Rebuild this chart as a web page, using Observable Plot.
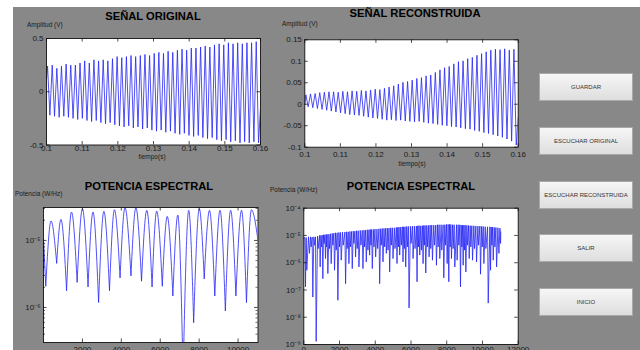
<!DOCTYPE html>
<html><head><meta charset="utf-8">
<script src="https://cdn.jsdelivr.net/npm/d3@7"></script>
<script src="https://cdn.jsdelivr.net/npm/@observablehq/plot@0.6"></script>
<style>
body{margin:0;background:#fff;}
#fig{position:relative;width:640px;height:350px;overflow:hidden;background:#fff;font-family:"Liberation Sans",Arial,sans-serif;}
#panel{position:absolute;left:13px;top:7px;right:0;bottom:0;background:#888888;}
.ttl{position:absolute;font-weight:bold;font-size:11.2px;color:#000;transform:translate(-50%,-50%);white-space:nowrap;line-height:1}
.lbl{position:absolute;font-size:6.5px;color:#1a1a1a;white-space:nowrap;line-height:1;transform:translateY(-50%)}
.btn{position:absolute;left:539px;width:94px;height:28px;box-sizing:border-box;border:1px solid #a9a9a9;background:linear-gradient(#f6f6f6,#dedede);font-size:6px;color:#333;display:flex;align-items:center;justify-content:center;white-space:nowrap}
.plot{position:absolute}
.plot svg{display:block;overflow:visible}
</style></head>
<body>
<div id="fig"><div id="panel"></div></div>
<script>
// ---------- DATA ----------
// Time-signal extrema (s): shared sample times of maxima and minima
const t_max = [0.1003,0.1016,0.1029,0.1042,0.1055,0.1068,0.1081,0.1094,0.1107,0.1120,0.1133,0.1146,0.1159,0.1172,0.1185,0.1198,0.1211,0.1224,0.1237,0.1250,0.1263,0.1276,0.1289,0.1302,0.1315,0.1328,0.1341,0.1354,0.1367,0.1380,0.1393,0.1406,0.1419,0.1432,0.1445,0.1458,0.1471,0.1484,0.1497,0.1510,0.1523,0.1536,0.1549,0.1562,0.1575,0.1588];
const t_min = [0.10095,0.10225,0.10355,0.10485,0.10615,0.10745,0.10875,0.11005,0.11135,0.11265,0.11395,0.11525,0.11655,0.11785,0.11915,0.12045,0.12175,0.12305,0.12435,0.12565,0.12695,0.12825,0.12955,0.13085,0.13215,0.13345,0.13475,0.13605,0.13735,0.13865,0.13995,0.14125,0.14255,0.14385,0.14515,0.14645,0.14775,0.14905,0.15035,0.15165,0.15295,0.15425,0.15555,0.15685,0.15815,0.15945];

// SEÑAL ORIGINAL (V)
const orig_start = 0.12, orig_end = -0.15;
const orig_max = [0.24,0.25,0.22,0.24,0.26,0.25,0.25,0.27,0.29,0.27,0.30,0.29,0.30,0.29,0.31,0.33,0.32,0.33,0.34,0.33,0.34,0.35,0.34,0.36,0.37,0.36,0.38,0.37,0.39,0.40,0.39,0.41,0.41,0.42,0.43,0.42,0.44,0.45,0.44,0.46,0.45,0.46,0.45,0.46,0.46,0.47];
const orig_min = [-0.22,-0.23,-0.24,-0.23,-0.24,-0.25,-0.26,-0.25,-0.27,-0.28,-0.27,-0.29,-0.30,-0.29,-0.31,-0.32,-0.33,-0.32,-0.34,-0.33,-0.35,-0.34,-0.36,-0.37,-0.36,-0.38,-0.37,-0.39,-0.40,-0.39,-0.41,-0.42,-0.41,-0.43,-0.44,-0.43,-0.45,-0.46,-0.45,-0.47,-0.46,-0.48,-0.47,-0.48,-0.47,-0.48];

// SEÑAL RECONSTRUIDA (V)
const rec_start = 0.0, rec_end = -0.03;
const rec_max = [0.022,0.024,0.025,0.027,0.028,0.029,0.029,0.028,0.030,0.029,0.031,0.030,0.032,0.031,0.033,0.035,0.034,0.037,0.040,0.043,0.047,0.051,0.053,0.056,0.060,0.062,0.066,0.068,0.074,0.080,0.085,0.088,0.094,0.099,0.101,0.106,0.109,0.114,0.118,0.122,0.126,0.128,0.127,0.129,0.126,0.128];
const rec_min = [-0.006,-0.008,-0.010,-0.012,-0.014,-0.016,-0.018,-0.020,-0.022,-0.024,-0.025,-0.026,-0.028,-0.030,-0.032,-0.033,-0.035,-0.037,-0.036,-0.038,-0.037,-0.039,-0.040,-0.041,-0.040,-0.042,-0.044,-0.045,-0.047,-0.049,-0.050,-0.052,-0.053,-0.055,-0.057,-0.058,-0.061,-0.063,-0.066,-0.068,-0.071,-0.074,-0.077,-0.081,-0.086,-0.095];

// POTENCIA ESPECTRAL (original): lobes between dips (Hz, W/Hz)
const po_start_f = 0, po_start_v = 1.05e-5, po_end_f = 11025, po_end_v = 1.0e-5;
const po_dip_f = [117,677,1186,1729,2289,2832,3392,3935,4495,5038,5580,6106,6649,7175,7718,8261,8804,9347,9890,10433];
const po_dip_v = [2.1e-6,4.6e-6,1.8e-6,2.4e-6,2.05e-6,1.2e-6,1.8e-6,2.8e-6,3.0e-6,2.5e-6,2.05e-6,2.1e-6,1.5e-6,1e-7,6.0e-7,2.7e-6,1.5e-6,9.0e-7,1.5e-6,1.2e-6];
const po_peak_f = [388,897,1440,2000,2543,3103,3646,4189,4749,5309,5818,6361,6904,7464,8007,8532,9075,9619,10179,10688];
const po_peak_v = [1.95e-5,2.06e-5,2.65e-5,2.97e-5,2.65e-5,2.71e-5,2.87e-5,3.08e-5,3.08e-5,2.81e-5,2.74e-5,2.28e-5,2.39e-5,2.81e-5,2.97e-5,2.81e-5,2.81e-5,2.81e-5,2.81e-5,2.87e-5];

// POTENCIA ESPECTRAL (reconstruida): spikes (Hz, W/Hz)
const pr_f = [0,56,94,131,168,262,318,374,411,468,505,561,598,655,692,767,804,879,916,954,991,1029,1066,1103,1141,1178,1216,1253,1272,1309,1346,1403,1440,1496,1533,1590,1627,1683,1720,1777,1814,1870,1907,1964,2001,2057,2094,2169,2207,2300,2338,2394,2431,2487,2525,2581,2618,2674,2712,2768,2805,2861,2899,2955,2992,3048,3086,3160,3198,3273,3310,3366,3403,3460,3497,3553,3590,3647,3684,3721,3759,3796,3834,3890,3927,3983,4021,4095,4133,4208,4245,4301,4338,4395,4432,4488,4525,4582,4619,4675,4712,4769,4806,4862,4899,4956,4993,5068,5105,5180,5217,5255,5292,5330,5367,5423,5460,5517,5554,5591,5629,5666,5704,5760,5797,5853,5891,5965,6003,6078,6115,6190,6227,6302,6339,6377,6414,6452,6489,6545,6582,6639,6676,6713,6751,6788,6826,6882,6919,6975,7013,7069,7106,7162,7200,7274,7312,7387,7424,7480,7517,7574,7611,7686,7723,7798,7835,7891,7929,7985,8022,8078,8116,8153,8191,8228,8265,8322,8359,8415,8452,8546,8583,8639,8677,8733,8770,8808,8845,8883,8920,8957,8995,9032,9070,9126,9163,9219,9257,9313,9350,9406,9444,9518,9556,9631,9668,9743,9780,9855,9892,9948,9986,10042,10079,10154,10192,10285,10322,10416,10453,10491,10528,10566,10603,10659,10696,10753,10790,10865,10921,10977,11014,11025];
const pr_v = [7.8e-6,8.4e-6,1.3e-7,8.4e-6,5.3e-7,8.9e-6,2.2e-6,8.9e-6,3.8e-6,8.7e-6,5.5e-8,8.9e-6,4.4e-6,8.9e-6,1.3e-9,9.4e-6,3.3e-6,1.0e-5,7.0e-7,1.0e-5,3.8e-6,1.03e-5,2.6e-7,1.06e-5,5.1e-6,1.06e-5,1.42e-6,1.09e-5,3.8e-6,1.09e-5,4.0e-7,1.12e-5,3.3e-6,1.15e-5,9.3e-7,1.19e-5,4.4e-6,1.22e-5,5.3e-7,1.25e-5,2.9e-6,1.25e-5,4.2e-8,1.29e-5,3.8e-6,1.29e-5,1.24e-6,1.33e-5,4.4e-6,1.33e-5,1.7e-7,1.36e-5,3.3e-6,1.36e-5,9.3e-7,1.40e-5,3.8e-6,1.40e-5,6.1e-7,1.44e-5,5.1e-6,1.44e-5,1.64e-6,1.49e-5,3.3e-6,1.49e-5,7.0e-7,1.53e-5,4.4e-6,1.53e-5,6.1e-7,1.57e-5,3.8e-6,1.57e-5,1.07e-6,1.62e-5,2.9e-6,1.62e-5,1.9e-6,1.66e-5,4.4e-6,1.66e-5,6.1e-7,1.66e-5,3.8e-6,1.71e-5,1.64e-6,1.71e-5,3.3e-6,1.76e-5,1.7e-7,1.76e-5,4.4e-6,1.81e-5,1.07e-6,1.81e-5,3.8e-6,1.86e-5,2.2e-6,1.86e-5,2.9e-6,1.86e-5,4.6e-7,1.91e-5,4.4e-6,1.91e-5,1.42e-6,1.91e-5,3.3e-6,1.97e-5,9.3e-7,1.97e-5,3.8e-6,2.03e-5,1.9e-6,2.03e-5,4.4e-6,2.08e-5,1.07e-6,2.08e-5,3.3e-6,2.08e-5,7.0e-7,2.14e-5,3.8e-6,2.14e-5,2.2e-8,2.14e-5,5.1e-6,2.21e-5,1.42e-6,2.21e-5,3.3e-6,2.21e-5,2.0e-7,2.27e-5,3.8e-6,2.27e-5,1.9e-6,2.27e-5,2.9e-6,2.27e-5,9.3e-7,2.33e-5,4.4e-6,2.33e-5,4.2e-7,2.33e-5,3.8e-6,2.33e-5,1.64e-6,2.40e-5,3.3e-6,2.40e-5,1.24e-6,2.40e-5,4.4e-6,2.40e-5,8.1e-7,2.47e-5,3.8e-6,2.47e-5,1.42e-6,2.47e-5,2.9e-6,2.47e-5,2.8e-7,2.47e-5,4.4e-6,2.54e-5,9.3e-7,2.54e-5,2.0e-7,2.54e-5,3.8e-6,2.54e-5,1.42e-6,2.47e-5,3.3e-6,2.47e-5,7.0e-7,2.47e-5,1.24e-6,2.47e-5,4.4e-6,2.47e-5,1.3e-7,2.40e-5,3.8e-6,2.40e-5,8.1e-7,2.40e-5,2.9e-6,2.40e-5,4.6e-7,2.33e-5,4.4e-6,2.33e-5,1.42e-6,2.27e-5,3.8e-6,2.27e-5,1.24e-6,2.27e-5,3.3e-6,2.21e-5,1.07e-6,2.21e-5,4.4e-6,2.21e-5,3.8e-7,2.14e-5,3.8e-6,2.14e-5,9.3e-7,2.08e-5,3.3e-6,2.08e-5,3.3e-8,2.08e-5,5.3e-7,2.03e-5,4.4e-6,2.03e-5,1.24e-6,1.97e-5,3.8e-6,1.97e-5,7.0e-7,1.91e-5,2.2e-6,1.86e-5,5.1e-6,1.36e-5];

// Tick values and UI labels
const x_time_ticks = [0.1,0.11,0.12,0.13,0.14,0.15,0.16];
const y_orig_ticks = [-0.5,0,0.5];
const y_rec_ticks = [-0.1,-0.05,0,0.05,0.1,0.15];
const x_po_ticks = [2000,4000,6000,8000,10000];
const y_po_ticks = [1e-6,1e-5];
const y_po_minor = [4e-7,5e-7,6e-7,7e-7,8e-7,9e-7,2e-6,3e-6,4e-6,5e-6,6e-6,7e-6,8e-6,9e-6,2e-5,3e-5];
const x_pr_ticks = [0,2000,4000,6000,8000,10000,12000];
const y_pr_ticks = [1e-9,1e-8,1e-7,1e-6,1e-5,1e-4];
const titles = ["SEÑAL ORIGINAL","SEÑAL RECONSTRUIDA","POTENCIA ESPECTRAL","POTENCIA ESPECTRAL"];
const ylabels = ["Amplitud (V)","Amplitud (V)","Potencia (W/Hz)","Potencia (W/Hz)"];
const xlabel = "tiempo(s)";
const buttons = ["GUARDAR","ESCUCHAR ORIGINAL","ESCUCHAR RECONSTRUIDA","SALIR","INICIO"];

// ---------- BUILD TABLES ----------
function zig(t0, v0, vmax, vmin, t1, v1){
  const out = [{t:t0, v:v0}];
  for (let k = 0; k < t_max.length; k++){ out.push({t:t_max[k], v:vmax[k]}); out.push({t:t_min[k], v:vmin[k]}); }
  out.push({t:t1, v:v1});
  return out;
}
const origData = zig(0.1, orig_start, orig_max, orig_min, 0.16, orig_end);
const recData = zig(0.1, rec_start, rec_max, rec_min, 0.16, rec_end);

const poData = [{f:po_start_f, v:po_start_v, s:-1},{f:po_dip_f[0], v:po_dip_v[0], s:-1}];
for (let i = 0; i < po_peak_f.length; i++){
  poData.push({f:po_dip_f[i], v:po_dip_v[i], s:i});
  poData.push({f:po_peak_f[i], v:po_peak_v[i], s:i});
  if (i + 1 < po_dip_f.length) poData.push({f:po_dip_f[i+1], v:po_dip_v[i+1], s:i});
  else poData.push({f:po_end_f, v:po_end_v, s:i});
}
const prData = pr_f.map((f,i)=>({f, v:pr_v[i]}));

// ---------- DRAW ----------
const fig = document.getElementById("fig");
const SUP = {"-":"\u207B","0":"\u2070","1":"\u00B9","2":"\u00B2","3":"\u00B3","4":"\u2074","5":"\u2075","6":"\u2076","7":"\u2077","8":"\u2078","9":"\u2079"};
const pow10 = d => "10" + String(Math.round(Math.log10(d))).split("").map(c=>SUP[c]).join("");
const LINE = "#2525f5";

function panel(o){
  const fw = o.width - o.ml - o.mr, fh = o.height - o.mt - o.mb;
  const tk = 3.5, tkm = 2;
  const marks = [
    Plot.frame({fill:"white", stroke:null}),
    ...o.marks,
    Plot.tickX(o.xticks, {x:d=>d, insetTop: fh - tk, stroke:"#000", strokeWidth:0.7}),
    Plot.tickX(o.xticks, {x:d=>d, insetBottom: fh - tk, stroke:"#000", strokeWidth:0.7}),
    Plot.tickY(o.yticks, {y:d=>d, insetRight: fw - tk, stroke:"#000", strokeWidth:0.7}),
    Plot.tickY(o.yticks, {y:d=>d, insetLeft: fw - tk, stroke:"#000", strokeWidth:0.7}),
    Plot.frame({stroke:"#111", strokeWidth:0.9}),
    Plot.axisX(o.xticks, {tickSize:0, tickPadding:o.xpad, tickFormat:o.xfmt, fontSize:8, label:null}),
    Plot.axisY(o.yticks, {tickSize:0, tickPadding:3, tickFormat:o.yfmt, fontSize:8, label:null})
  ];
  if (o.yminor){
    marks.push(Plot.tickY(o.yminor, {y:d=>d, insetRight: fw - tkm, stroke:"#000", strokeWidth:0.6}));
    marks.push(Plot.tickY(o.yminor, {y:d=>d, insetLeft: fw - tkm, stroke:"#000", strokeWidth:0.6}));
  }
  const svg = Plot.plot({
    width:o.width, height:o.height,
    marginTop:o.mt, marginRight:o.mr, marginBottom:o.mb, marginLeft:o.ml,
    x:o.x, y:o.y,
    style:{background:"transparent", fontFamily:"'Liberation Sans', Arial, sans-serif", color:"#1a1a1a", overflow:"visible"},
    marks
  });
  const div = document.createElement("div");
  div.className = "plot";
  div.style.left = o.left + "px"; div.style.top = o.top + "px";
  div.appendChild(svg);
  fig.appendChild(div);
}

const fmt = d => String(d);

panel({left:0, top:28, width:270, height:135, ml:46, mr:10, mt:10, mb:18.5, xpad:0,
  x:{domain:[0.1,0.16]}, y:{domain:[-0.5,0.5]},
  xticks:x_time_ticks, yticks:y_orig_ticks, xfmt:fmt, yfmt:fmt,
  marks:[Plot.line(origData, {x:"t", y:"v", stroke:LINE, strokeOpacity:0.8, strokeWidth:1, clip:true})]});

panel({left:260, top:28, width:270, height:140, ml:44.3, mr:12.3, mt:11.3, mb:21.3, xpad:4,
  x:{domain:[0.1,0.16]}, y:{domain:[-0.1,0.15]},
  xticks:x_time_ticks, yticks:y_rec_ticks, xfmt:fmt, yfmt:fmt,
  marks:[Plot.line(recData, {x:"t", y:"v", stroke:LINE, strokeOpacity:0.8, strokeWidth:1, clip:true})]});

panel({left:0, top:195, width:270, height:170, ml:43, mr:12.5, mt:12, mb:23, xpad:3.5,
  x:{domain:[0,11025]}, y:{type:"log", domain:[3.0e-7,3.1e-5]},
  xticks:x_po_ticks, yticks:y_po_ticks, yminor:y_po_minor, xfmt:fmt, yfmt:pow10,
  marks:[Plot.line(poData, {x:"f", y:"v", z:"s", stroke:LINE, strokeOpacity:0.8, strokeWidth:1, curve:"monotone-x", clip:true})]});

panel({left:260, top:195, width:270, height:170, ml:43.3, mr:12.3, mt:12.7, mb:21, xpad:1.5,
  x:{domain:[0,12000]}, y:{type:"log", domain:[1e-9,1e-4]},
  xticks:x_pr_ticks, yticks:y_pr_ticks, xfmt:fmt, yfmt:pow10,
  marks:[Plot.line(prData, {x:"f", y:"v", stroke:LINE, strokeOpacity:0.8, strokeWidth:1, clip:true})]});

// titles & labels
const titlePos = [[153,17],[415,14],[149,187],[411,187]];
titles.forEach((t,i)=>{const d=document.createElement("div");d.className="ttl";d.textContent=t;d.style.left=titlePos[i][0]+"px";d.style.top=titlePos[i][1]+"px";fig.appendChild(d);});
const ylabPos = [[27,25],[282,24],[15,194],[270,190]];
ylabels.forEach((t,i)=>{const d=document.createElement("div");d.className="lbl";d.textContent=t;d.style.left=ylabPos[i][0]+"px";d.style.top=ylabPos[i][1]+"px";fig.appendChild(d);});
[[152,157],[412,164]].forEach(p=>{const d=document.createElement("div");d.className="lbl";d.textContent=xlabel;d.style.left=p[0]+"px";d.style.top=p[1]+"px";d.style.transform="translate(-50%,-50%)";fig.appendChild(d);});
const btnTop = [73,127,181,234,288];
buttons.forEach((t,i)=>{const d=document.createElement("div");d.className="btn";d.textContent=t;d.style.top=btnTop[i]+"px";fig.appendChild(d);});
</script>
</body></html>
